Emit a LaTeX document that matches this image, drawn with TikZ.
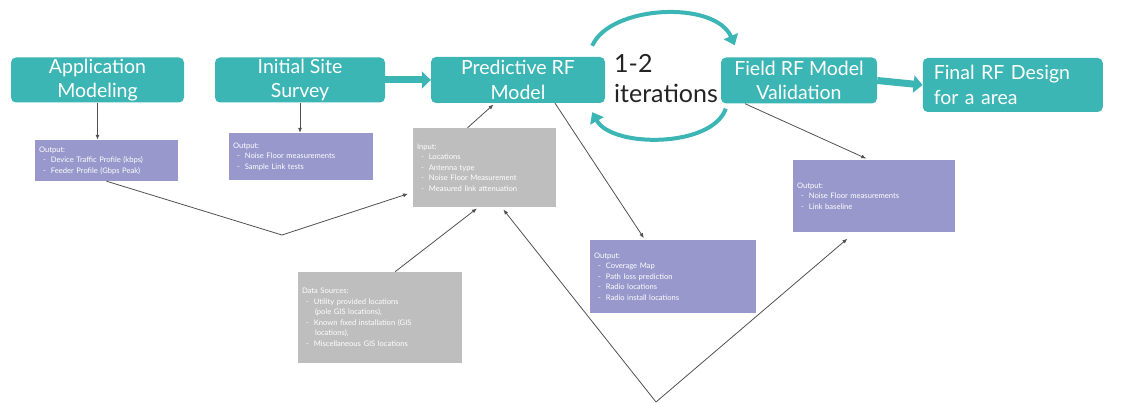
\documentclass[tikz,border=0pt]{standalone}
\usepackage{fontspec}
\setmainfont{Lato}
\usepackage{tikz}
\usetikzlibrary{positioning}
\usetikzlibrary{arrows.meta}

\definecolor{stageteal}{RGB}{60,182,180}
\definecolor{outpurple}{RGB}{152,152,204}
\definecolor{ingray}{RGB}{190,190,190}
\definecolor{linkgray}{RGB}{80,80,80}
\definecolor{itertext}{RGB}{35,35,35}

\newcommand{\outitem}[1]{\\\hspace*{4pt}-\hspace{5pt}#1}
\newcommand{\outcont}[1]{\\\hspace*{13pt}#1}

\tikzset{
    stage/.style={fill=stageteal, rounded corners=5pt, text=white, align=center, inner sep=0pt, font=\fontsize{19.5}{24.5}\selectfont},
    outbox/.style={fill=outpurple, text=white, align=left, inner xsep=4pt, font=\fontsize{7.6}{10.5}\selectfont},
    inbox/.style={outbox, fill=ingray},
    flow/.style={draw=stageteal, line width=7pt, -{Triangle[length=9pt,width=17pt]}},
    iterarrow/.style={draw=stageteal, line width=4pt, -{Triangle[length=10pt,width=15pt]}},
    link/.style={draw=linkgray, line width=0.8pt, -{Latex[length=5pt,width=4pt]}},
}

\begin{document}
\begin{tikzpicture}[x=1pt, y=-1pt]
    \useasboundingbox (0,0) rectangle (1130,403);

    % stages
    \node[stage, minimum width=173pt, minimum height=45pt] (app) at (97.5,80) {Application\\Modeling};
    \node[stage, minimum width=170pt, minimum height=45pt] (survey) at (300,80) {Initial Site\\Survey};
    \node[stage, minimum width=174pt, minimum height=46pt] (predict) at (518,80) {Predictive RF\\Model};
    \node[stage, minimum width=156pt, minimum height=46pt] (field) at (799,80.5) {Field RF Model\\Validation};
    \node[stage, align=left, text width=158pt, inner xsep=11pt, minimum height=54pt] (final) at (1103,85) [anchor=east] {Final RF Design\\for a area};

    \node[anchor=west, align=left, text=itertext, inner sep=0pt, font=\fontsize{25}{30}\selectfont] (iter) at (614,79) {1-2\\iterations};

    % outputs and inputs
    \node[outbox, text width=135pt, minimum height=41pt] (appout) at (106.5,160.5) {Output:\outitem{Device Traffic Profile (kbps)}\outitem{Feeder Profile (Gbps Peak)}};
    \node[outbox, text width=136pt, minimum height=47pt] (surveyout) at (301,156.5) {Output:\outitem{Noise Floor measurements}\outitem{Sample Link tests}};
    \node[inbox, text width=135pt, minimum height=79pt] (inputs) at (484.5,167.5) {Input:\outitem{Locations}\outitem{Antenna type}\outitem{Noise Floor Measurement}\outitem{Measured link attenuation}};
    \node[inbox, text width=156pt, minimum height=91pt] (sources) at (380,317.5) {Data Sources:\outitem{Utility provided locations}\outcont{(pole GIS locations),}\outitem{Known fixed installation (GIS}\outcont{locations),}\outitem{Miscellaneous GIS locations}};
    \node[outbox, text width=158pt, minimum height=73pt] (predout) at (673,276.5) {Output:\outitem{Coverage Map}\outitem{Path loss prediction}\outitem{Radio locations}\outitem{Radio install locations}};
    \node[outbox, text width=154pt, minimum height=72pt] (fieldout) at (874,196) {Output:\outitem{Noise Floor measurements}\outitem{Link baseline}};

    \coordinate (bend) at (282,235);
    \coordinate (vbot) at (656,402);

    % main flow
    \draw[flow] (survey.east) -- (predict.west);
    \draw[flow] (field.east) -- (final.west);
    \draw[iterarrow] ([xshift=-13pt,yshift=11pt]predict.north east) .. controls (610,5) and (715,0) .. ([xshift=14pt,yshift=12pt]field.north west);
    \draw[iterarrow] ([xshift=5pt,yshift=-5pt]field.south west) .. controls (712,148) and (612,148) .. ([xshift=-13pt,yshift=-9pt]predict.south east);

    % links
    \draw[link] (app.south) -- (app.south |- appout.north);
    \draw[link] (survey.south) -- (survey.south |- surveyout.north);
    \draw[link, shorten >=5pt] (appout.south) -- (bend) -- ([yshift=15pt]inputs.south west);
    \draw[link, shorten >=2pt] ([xshift=-17pt]inputs.north) -- ([xshift=-23pt]predict.south);
    \draw[link, shorten >=2pt] ([xshift=15pt]sources.north) -- ([xshift=-6pt]inputs.south);
    \draw[link, shorten >=3pt] (vbot) -- ([xshift=17pt]inputs.south);
    \draw[link, shorten >=10pt] (vbot) -- ([xshift=-19pt]fieldout.south);
    \draw[link, shorten >=2pt] ([xshift=37pt]predict.south) -- ([xshift=-28pt]predout.north);
    \draw[link, shorten >=3pt] ([xshift=-54pt]field.south) -- ([xshift=-5pt]fieldout.north);
\end{tikzpicture}
\end{document}
